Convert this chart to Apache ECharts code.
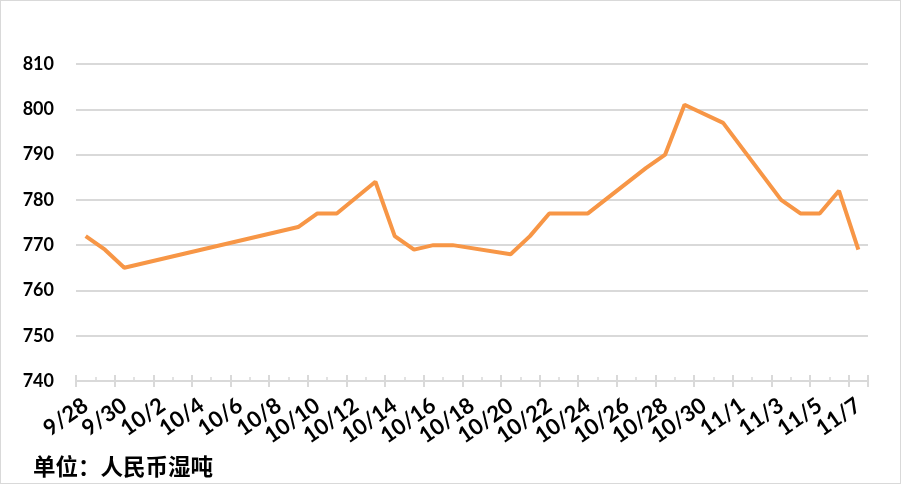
<!DOCTYPE html>
<html>
<head>
<meta charset="utf-8">
<script src="https://cdn.jsdelivr.net/npm/echarts@6/dist/echarts.min.js"></script>
<style>
html,body{margin:0;padding:0;background:#fff;}
#c{width:901px;height:484px;box-sizing:border-box;border:1px solid #d9d9d9;}
</style>
</head>
<body>
<div id="c"></div>
<script>
// Every calendar day from 9/28 to 11/7 (date axis of the original)
const dates = ["9/28","9/29","9/30","10/1","10/2","10/3","10/4","10/5","10/6","10/7","10/8","10/9","10/10","10/11","10/12","10/13","10/14","10/15","10/16","10/17","10/18","10/19","10/20","10/21","10/22","10/23","10/24","10/25","10/26","10/27","10/28","10/29","10/30","10/31","11/1","11/2","11/3","11/4","11/5","11/6","11/7"];
// Observed price points (RMB per wet tonne)
const obsDates  = ["9/28","9/29","9/30","10/9","10/10","10/11","10/13","10/14","10/15","10/16","10/17","10/20","10/21","10/22","10/24","10/27","10/28","10/29","10/31","11/3","11/4","11/5","11/6","11/7"];
const obsValues = [772,769,765,774,777,777,784,772,769,770,770,768,772,777,777,787,790,801,797,780,777,777,782,769];
const yTicks = [740,750,760,770,780,790,800,810];
const unitText = "单位：人民币湿吨";

const series = dates.map(d => {
  const i = obsDates.indexOf(d);
  return i >= 0 ? obsValues[i] : null;
});

const chart = echarts.init(document.getElementById('c'), null, {renderer:'canvas'});
const tickColor = '#d9d9d9';
chart.setOption({
  animation:false,
  grid:{left:75, right:32, top:63, bottom:102},
  xAxis:[
    {type:'category', data:dates, boundaryGap:true, position:'bottom',
     axisLine:{show:true, lineStyle:{color:tickColor, width:2}},
     axisTick:{show:true, interval:1, length:6, inside:false, lineStyle:{color:tickColor, width:2}},
     axisLabel:{interval:1, rotate:35, margin:22, showMinLabel:true, showMaxLabel:true, hideOverlap:false,
       fontFamily:'Lato', fontWeight:'bold', fontSize:22, color:'#000'},
     splitLine:{show:false}},
    {type:'category', data:dates, boundaryGap:true, position:'bottom',
     axisLine:{show:false},
     axisTick:{show:true, interval:1, length:6, inside:true, lineStyle:{color:tickColor, width:2}},
     axisLabel:{show:false}, splitLine:{show:false}},
    {type:'category', data:dates, boundaryGap:true, position:'bottom',
     axisLine:{show:false},
     axisTick:{show:true, interval:0, length:4, inside:true, lineStyle:{color:tickColor, width:1.5}},
     axisLabel:{show:false}, splitLine:{show:false}}
  ],
  yAxis:{type:'value', min:yTicks[0], max:yTicks[yTicks.length-1], interval:10,
     axisLine:{show:false}, axisTick:{show:false},
     axisLabel:{margin:22, fontFamily:'Lato', fontWeight:'bold', fontSize:18, color:'#000'},
     splitLine:{show:true, lineStyle:{color:tickColor, width:2}}},
  series:[{type:'line', data:series, xAxisIndex:0, connectNulls:true, showSymbol:false,
     lineStyle:{color:'#F79646', width:4}, itemStyle:{color:'#F79646'}}],
  graphic:[{type:'text', left:32, top:454,
     style:{text:unitText, fontFamily:'Noto Sans CJK SC', fontWeight:'bold', fontSize:22.5, fill:'#000'}}]
});
</script>
</body>
</html>
